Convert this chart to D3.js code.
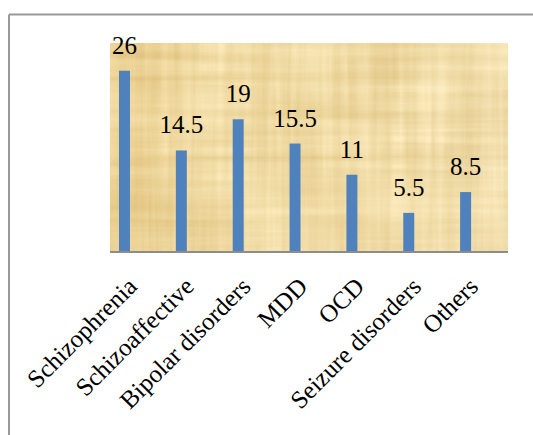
<!DOCTYPE html>
<html>
<head>
<meta charset="utf-8">
<script src="https://cdn.jsdelivr.net/npm/d3@7"></script>
<style>
  html, body { margin: 0; padding: 0; background: #fff; }
  svg { display: block; }
  text { font-family: "Liberation Serif", "Times New Roman", Times, serif; fill: #000; }
</style>
</head>
<body>
<script>
// Diagnoses and their share (%)
const categories = ["Schizophrenia", "Schizoaffective", "Bipolar disorders", "MDD", "OCD", "Seizure disorders", "Others"];
const values = [26, 14.5, 19, 15.5, 11, 5.5, 8.5];
const valueLabels = ["26", "14.5", "19", "15.5", "11", "5.5", "8.5"];
const yDomain = [0, 30];

const W = 533, H = 435;
const plot = { left: 110, right: 508, top: 43, bottom: 251 };

const svg = d3.select("body").append("svg").attr("width", W).attr("height", H);
const defs = svg.append("defs");

// Papyrus-like fibre texture for the plot area
const f = defs.append("filter").attr("id", "papyrus")
  .attr("x", 0).attr("y", 0).attr("width", "100%").attr("height", "100%")
  .attr("color-interpolation-filters", "sRGB");
f.append("feTurbulence").attr("type", "fractalNoise").attr("baseFrequency", "0.004 0.11")
  .attr("numOctaves", 3).attr("seed", 4).attr("result", "h");
f.append("feTurbulence").attr("type", "fractalNoise").attr("baseFrequency", "0.11 0.004")
  .attr("numOctaves", 3).attr("seed", 9).attr("result", "v");
f.append("feTurbulence").attr("type", "fractalNoise").attr("baseFrequency", "0.012 0.012")
  .attr("numOctaves", 2).attr("seed", 2).attr("result", "b");
f.append("feComposite").attr("in", "h").attr("in2", "v").attr("operator", "arithmetic")
  .attr("k2", 0.45).attr("k3", 0.45).attr("result", "hv");
f.append("feComposite").attr("in", "hv").attr("in2", "b").attr("operator", "arithmetic")
  .attr("k2", 0.75).attr("k3", 0.3).attr("k4", -0.02).attr("result", "n");
f.append("feColorMatrix").attr("in", "n").attr("type", "matrix")
  .attr("values", [
    "0.22 0 0 0 0.835",
    "0.30 0 0 0 0.715",
    "0.45 0 0 0 0.43",
    "0 0 0 0 1"
  ].join(" "));

const grad = defs.append("linearGradient").attr("id", "tone")
  .attr("x1", 0).attr("y1", 0).attr("x2", 1).attr("y2", 0);
grad.append("stop").attr("offset", "0%").attr("stop-color", "#dcae55").attr("stop-opacity", 0.2);
grad.append("stop").attr("offset", "30%").attr("stop-color", "#dcae55").attr("stop-opacity", 0.03);
grad.append("stop").attr("offset", "100%").attr("stop-color", "#fff6e6").attr("stop-opacity", 0.12);

// Chart frame (extends past the window on the right and bottom)
svg.append("line").attr("x1", 9).attr("x2", W).attr("y1", 14.5).attr("y2", 14.5)
  .attr("stroke", "#999").attr("stroke-width", 2);
svg.append("line").attr("x1", 9).attr("x2", 9).attr("y1", 14.5).attr("y2", H)
  .attr("stroke", "#999").attr("stroke-width", 2);

const x = d3.scaleBand().domain(categories).range([plot.left, plot.right]).padding(0);
const y = d3.scaleLinear().domain(yDomain).range([plot.bottom, plot.top]);

// Plot area background
svg.append("rect").attr("x", plot.left).attr("y", plot.top)
  .attr("width", plot.right - plot.left).attr("height", plot.bottom - plot.top)
  .attr("fill", "#efd9a6");
svg.append("rect").attr("x", plot.left).attr("y", plot.top)
  .attr("width", plot.right - plot.left).attr("height", plot.bottom - plot.top)
  .attr("filter", "url(#papyrus)");
svg.append("rect").attr("x", plot.left).attr("y", plot.top)
  .attr("width", plot.right - plot.left).attr("height", plot.bottom - plot.top)
  .attr("fill", "url(#tone)");

// Bars sit toward the left of each category slot
const barOffset = x.bandwidth() * 0.158;
const barWidth = x.bandwidth() * 0.193;

svg.append("g").selectAll("rect").data(values).join("rect")
  .attr("x", (d, i) => x(categories[i]) + barOffset)
  .attr("y", d => y(d))
  .attr("width", barWidth)
  .attr("height", d => y(0) - y(d))
  .attr("fill", "#4f81bd");

// Value labels
svg.append("g").selectAll("text").data(values).join("text")
  .attr("x", (d, i) => x(categories[i]) + barOffset + barWidth / 2)
  .attr("y", d => y(d) - 17)
  .attr("text-anchor", "middle")
  .attr("font-size", 25)
  .text((d, i) => valueLabels[i]);

// Category axis
const axis = svg.append("g").attr("transform", `translate(0,${plot.bottom})`)
  .call(d3.axisBottom(x).tickSize(0).tickPadding(0));
axis.attr("font-family", null);
axis.select(".domain").attr("stroke", "#8c8c8c").attr("stroke-width", 2)
  .attr("d", `M${plot.left},1V1H${plot.right}V1`);
axis.selectAll(".tick text")
  .attr("font-size", 25)
  .attr("fill", "#000")
  .attr("text-anchor", "end")
  .attr("dy", 0)
  .attr("y", 0)
  .attr("transform", "translate(0,37) rotate(-45)");
</script>
</body>
</html>
